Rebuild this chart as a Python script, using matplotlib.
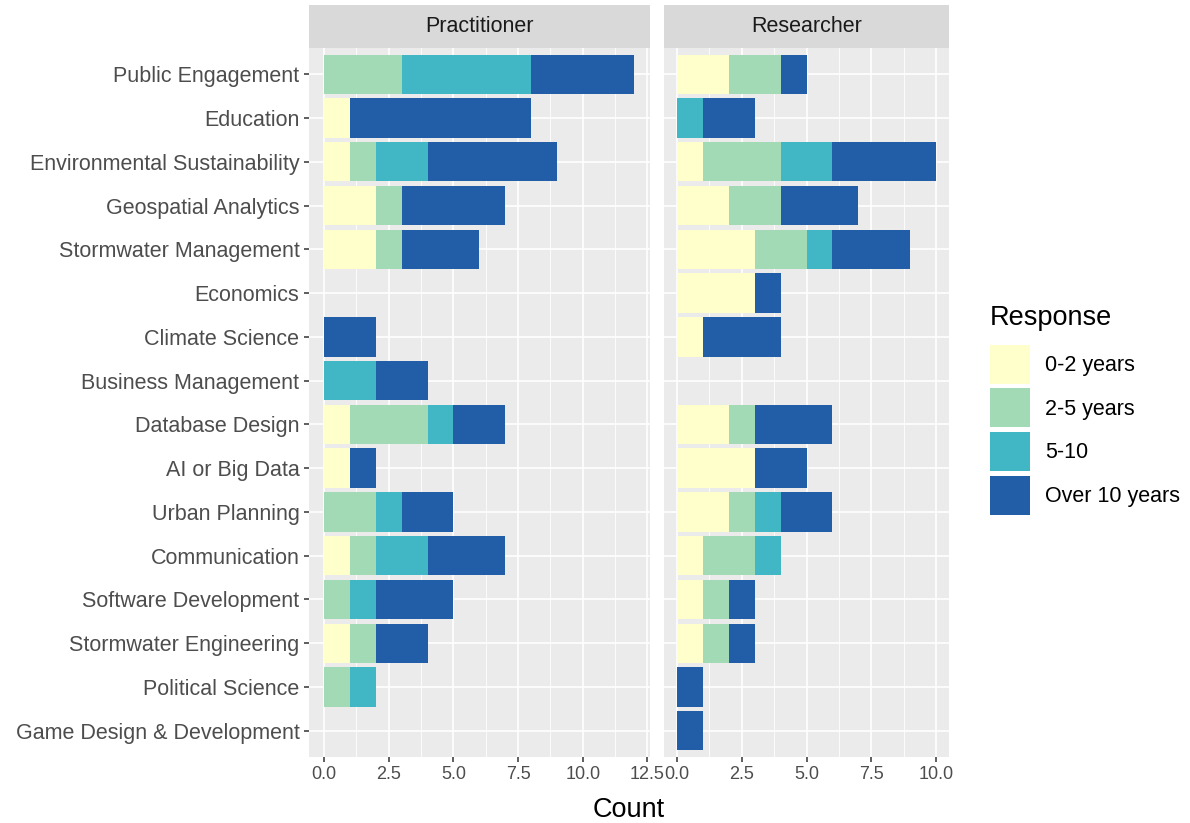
import numpy as np
import matplotlib
matplotlib.use("Agg")
import matplotlib.pyplot as plt
from matplotlib.patches import Patch

plt.rcParams['font.family'] = ['Liberation Sans', 'DejaVu Sans']

categories = ["Public Engagement", "Education", "Environmental Sustainability",
              "Geospatial Analytics", "Stormwater Management", "Economics",
              "Climate Science", "Business Management", "Database Design",
              "AI or Big Data", "Urban Planning", "Communication",
              "Software Development", "Stormwater Engineering",
              "Political Science", "Game Design & Development"]

responses = ["0-2 years", "2-5 years", "5-10", "Over 10 years"]
colors = ["#FFFFCC", "#A1DAB4", "#41B6C4", "#225EA8"]

# Practitioner counts per category
prac_0_2 = [0, 1, 1, 2, 2, 0, 0, 0, 1, 1, 0, 1, 0, 1, 0, 0]
prac_2_5 = [3, 0, 1, 1, 1, 0, 0, 0, 3, 0, 2, 1, 1, 1, 1, 0]
prac_5_10 = [5, 0, 2, 0, 0, 0, 0, 2, 1, 0, 1, 2, 1, 0, 1, 0]
prac_over10 = [4, 7, 5, 4, 3, 0, 2, 2, 2, 1, 2, 3, 3, 2, 0, 0]

# Researcher counts per category
res_0_2 = [2, 0, 1, 2, 3, 3, 1, 0, 2, 3, 2, 1, 1, 1, 0, 0]
res_2_5 = [2, 0, 3, 2, 2, 0, 0, 0, 1, 0, 1, 2, 1, 1, 0, 0]
res_5_10 = [0, 1, 2, 0, 1, 0, 0, 0, 0, 0, 1, 1, 0, 0, 0, 0]
res_over10 = [1, 2, 4, 3, 3, 1, 3, 0, 3, 2, 2, 0, 1, 1, 1, 1]

panels = [
    ("Practitioner", [prac_0_2, prac_2_5, prac_5_10, prac_over10],
     [0.0, 2.5, 5.0, 7.5, 10.0, 12.5]),
    ("Researcher", [res_0_2, res_2_5, res_5_10, res_over10],
     [0.0, 2.5, 5.0, 7.5, 10.0]),
]

W, H = 1190, 823
fig = plt.figure(figsize=(W / 100, H / 100), dpi=100)

# panel geometry in pixels: left, right
geom = [(308.5, 650), (664, 949)]
top_px, bot_px, strip_px = 48, 757, 43

y = np.arange(len(categories))[::-1]
n = len(categories)

for (title, series, ticks), (x0, x1) in zip(panels, geom):
    ax = fig.add_axes([x0 / W, 1 - bot_px / H, (x1 - x0) / W, (bot_px - top_px) / H])
    ax.set_facecolor("#EBEBEB")
    left = np.zeros(n)
    for vals, c in zip(series, colors):
        vals = np.array(vals, dtype=float)
        ax.barh(y, vals, left=left, height=0.9, color=c, linewidth=0, zorder=3)
        left += vals
    xmax = left.max()
    pad = xmax * 0.05
    ax.set_xlim(-pad, xmax + pad)
    ax.set_ylim(-0.6, n - 1 + 0.6)
    ax.set_xticks(ticks)
    ax.set_xticklabels(["%.1f" % t for t in ticks])
    minor = [t + 1.25 for t in ticks if t + 1.25 < xmax + pad]
    ax.set_xticks(minor, minor=True)
    ax.set_yticks(y)
    if title == "Practitioner":
        ax.set_yticklabels(categories)
    else:
        ax.set_yticklabels([])
    ax.grid(True, which="major", color="white", linewidth=1.2, zorder=0)
    ax.grid(True, which="minor", axis="x", color="white", linewidth=0.6, zorder=0)
    ax.set_axisbelow(True)
    for s in ax.spines.values():
        s.set_visible(False)
    ax.tick_params(axis="both", which="major", length=3.5, width=1.1,
                   color="#333333", labelcolor="#4D4D4D", pad=3)
    ax.tick_params(axis="x", labelsize=13)
    ax.tick_params(axis="y", labelsize=15.5)
    ax.tick_params(axis="both", which="minor", length=0)
    if title == "Researcher":
        ax.tick_params(axis="y", length=0)

    # strip
    sax = fig.add_axes([x0 / W, 1 - top_px / H, (x1 - x0) / W, strip_px / H])
    sax.set_facecolor("#D9D9D9")
    sax.set_xticks([])
    sax.set_yticks([])
    for s in sax.spines.values():
        s.set_visible(False)
    sax.text(0.5, 0.5, title, ha="center", va="center", fontsize=15.5,
             color="#1A1A1A", transform=sax.transAxes)

fig.text((308.5 + 949) / 2 / W, 1 - 810 / H, "Count", ha="center", va="center",
         fontsize=19.5, color="black")

handles = [Patch(facecolor=c, edgecolor="none", label=r) for c, r in zip(colors, responses)]
leg = fig.legend(handles=handles, title="Response", loc="upper left",
                 bbox_to_anchor=(990 / W, 1 - 305 / H), frameon=False,
                 fontsize=15.5, title_fontsize=19.5, handlelength=1.85, handleheight=2.4,
                 labelspacing=0.22, handletextpad=0.7, borderaxespad=0, borderpad=0)
leg._legend_box.align = "left"
leg._legend_box.sep = 10

fig.savefig("out.png", dpi=100)
